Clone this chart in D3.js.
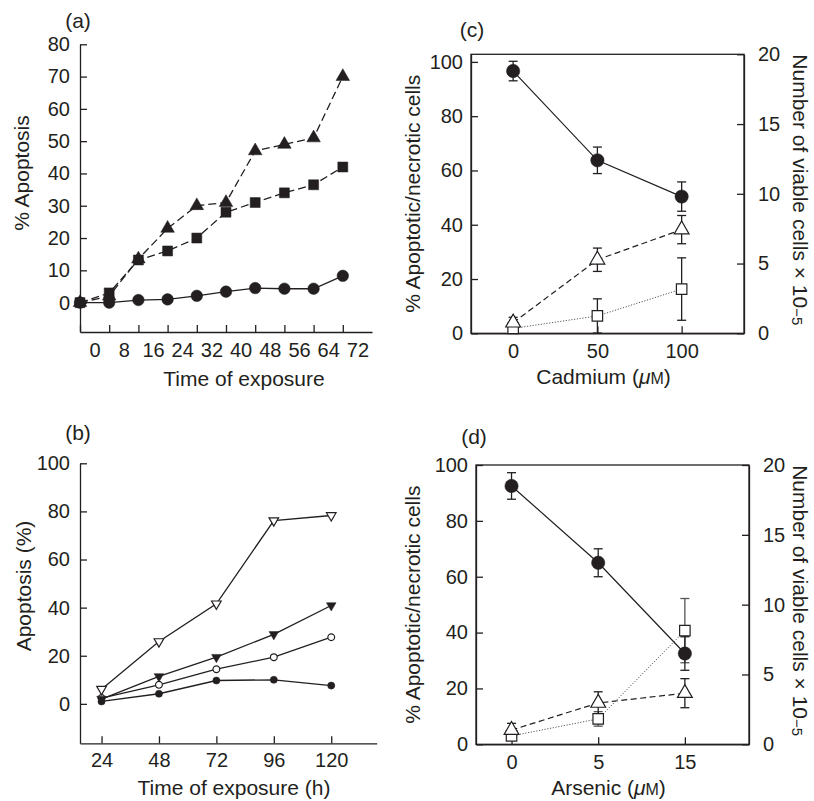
<!DOCTYPE html>
<html>
<head>
<meta charset="utf-8">
<script src="https://cdn.jsdelivr.net/npm/d3@7"></script>
<style>
  body { margin: 0; background: #fff; }
  text { font-family: "Liberation Sans", Arial, Helvetica, sans-serif; fill: #231f20; }
</style>
</head>
<body>
<div id="root"></div>
<script>
// ---- panel (a): % apoptosis vs time ----
var aTimes = ["0", "8", "16", "24", "32", "40", "48", "56", "64", "72"];
var aCircle = [0, 0, 0.8, 1, 2.1, 3.4, 4.5, 4.3, 4.3, 8.3];
var aSquare = [0, 3, 13.2, 16, 20, 28, 31, 34, 36.5, 42];
var aTriangle = [0, 2, 13.5, 23, 30, 31, 47, 49, 51, 70];
var aYTicks = [0, 10, 20, 30, 40, 50, 60, 70, 80];

// ---- panel (b): apoptosis (%) vs time (h) ----
var bTimes = [24, 48, 72, 96, 120];
var bFilledCircle = [1, 4.2, 9.7, 10, 7.6];
var bOpenCircle = [2.4, 7.9, 14.4, 19.4, 27.7];
var bFilledTri = [2, 11.4, 19.4, 28.9, 40.9];
var bOpenTri = [6.1, 25.9, 41.6, 76.2, 78.3];
var bYTicks = [0, 20, 40, 60, 80, 100];

// ---- panel (c): cadmium ----
var cDoses = ["0", "50", "100"];
var cViable = [18.8, 12.4, 9.8];          // right axis, x 10^-5
var cViableErr = [0.7, 0.95, 1.05];
var cApoptotic = [3.9, 27.1, 38.2];       // left axis, %
var cApoptoticErr = [2, 4.3, 5.2];
var cNecrotic = [1.8, 6.4, 16.3];
var cNecroticErr = [1, 6.3, 11.5];

// ---- panel (d): arsenic ----
var dDoses = ["0", "5", "15"];
var dViable = [18.5, 13.0, 6.5];
var dViableErr = [0.95, 1.0, 1.2];
var dApoptotic = [5.1, 14.8, 18.3];
var dApoptoticErr = [2.4, 4, 5.2];
var dNecrotic = [3, 9.1, 40.7];
var dNecroticErr = [1.5, 2.6, 11.5];

var leftTicks = [0, 20, 40, 60, 80, 100];
var rightTicks = [0, 5, 10, 15, 20];

var ink = "#231f20";
var tickFont = 20, titleFont = 21;

var svg = d3.select("#root").append("svg")
    .attr("width", 814)
    .attr("height", 801);

// style an axis group after d3 built it
function styleAxis(g, hideDomain) {
  g.attr("font-size", tickFont)
   .attr("font-family", null);
  g.selectAll("path").attr("stroke", ink).attr("stroke-width", 1.3);
  g.selectAll("line").attr("stroke", ink).attr("stroke-width", 1.3);
  g.selectAll("text").attr("fill", ink);
  if (hideDomain) g.select(".domain").remove();
}

function symbolPath(type, size) {
  return d3.symbol().type(type).size(size)();
}

// draw one series: line + markers
function drawSeries(g, xs, ys, x, y, o) {
  var pts = xs.map(function (d, i) { return [x(d), y(ys[i])]; });
  var line = d3.line();
  var p = g.append("path")
      .attr("d", line(pts))
      .attr("fill", "none")
      .attr("stroke", o.lineColor || ink)
      .attr("stroke-width", o.lineWidth || 1.3);
  if (o.dash) p.attr("stroke-dasharray", o.dash);

  g.selectAll(null)
    .data(pts)
    .enter().append("path")
      .attr("d", symbolPath(o.type, o.size))
      .attr("transform", function (d) {
        return "translate(" + d[0] + "," + d[1] + ")" + (o.flip ? " rotate(180)" : "");
      })
      .attr("fill", o.filled ? ink : "#fff")
      .attr("stroke", ink)
      .attr("stroke-width", o.filled ? 0.5 : 1.2);
}

function drawErrors(g, xs, ys, errs, x, y, color) {
  xs.forEach(function (d, i) {
    var cx = x(d), y1 = y(ys[i] - errs[i]), y2 = y(ys[i] + errs[i]);
    var e = g.append("g").attr("stroke", color || ink).attr("stroke-width", 1.3);
    e.append("line").attr("x1", cx).attr("x2", cx).attr("y1", y1).attr("y2", y2);
    e.append("line").attr("x1", cx - 4.5).attr("x2", cx + 4.5).attr("y1", y1).attr("y2", y1);
    e.append("line").attr("x1", cx - 4.5).attr("x2", cx + 4.5).attr("y1", y2).attr("y2", y2);
  });
}

function label(str, x, y, size, anchor, rot) {
  var t = svg.append("text")
      .attr("font-size", size)
      .attr("text-anchor", anchor || "middle")
      .text(str);
  if (rot) t.attr("transform", "translate(" + x + "," + y + ") rotate(" + rot + ")");
  else t.attr("x", x).attr("y", y);
  return t;
}

/*************** panel (a) ***************/
(function () {
  var idx = d3.range(aTimes.length);
  var x = d3.scaleLinear().domain([0, 10]).range([80, 372]);
  var y = d3.scaleLinear().domain([-9.1, 80]).range([332, 44.3]);
  var g = svg.append("g");

  g.append("g").attr("transform", "translate(80,0)")
    .call(d3.axisLeft(y).tickValues(aYTicks).tickSizeInner(-7).tickSizeOuter(0).tickPadding(10))
    .call(styleAxis);

  g.append("g").attr("transform", "translate(0,332)")
    .call(d3.axisBottom(x).tickValues(idx).tickSizeInner(-7).tickSizeOuter(0).tickFormat(""))
    .call(styleAxis);

  // labels sit between the tick marks, as in the original
  g.append("g").attr("transform", "translate(0,332)")
    .call(d3.axisBottom(x).tickValues(idx.map(function (i) { return i + 0.5; }))
      .tickSize(0).tickPadding(11)
      .tickFormat(function (d, i) { return aTimes[i]; }))
    .call(styleAxis, true);

  drawSeries(g, idx, aSquare, x, y, { type: d3.symbolSquare, size: 100, filled: true, dash: "8,4" });
  drawSeries(g, idx, aTriangle, x, y, { type: d3.symbolTriangle, size: 80, filled: true, dash: "8,4" });
  drawSeries(g, idx, aCircle, x, y, { type: d3.symbolCircle, size: 105, filled: true });

  label("(a)", 78, 28, titleFont);
  label("% Apoptosis", 29, 173, titleFont, "middle", -90);
  label("Time of exposure", 244, 386, titleFont);
})();

/*************** panel (b) ***************/
(function () {
  var x = d3.scaleLinear().domain([15, 139]).range([80, 376.7]);
  var y = d3.scaleLinear().domain([-16.4, 100]).range([743.3, 463.3]);
  var g = svg.append("g");

  g.append("g").attr("transform", "translate(80,0)")
    .call(d3.axisLeft(y).tickValues(bYTicks).tickSizeInner(-7).tickSizeOuter(0).tickPadding(10))
    .call(styleAxis);

  g.append("g").attr("transform", "translate(0,743.3)")
    .call(d3.axisBottom(x).tickValues(bTimes).tickSizeInner(-7).tickSizeOuter(0).tickPadding(10))
    .call(styleAxis);

  drawSeries(g, bTimes, bFilledCircle, x, y, { type: d3.symbolCircle, size: 40, filled: true });
  drawSeries(g, bTimes, bOpenCircle, x, y, { type: d3.symbolCircle, size: 36, filled: false });
  drawSeries(g, bTimes, bFilledTri, x, y, { type: d3.symbolTriangle, size: 40, filled: true, flip: true });
  drawSeries(g, bTimes, bOpenTri, x, y, { type: d3.symbolTriangle, size: 40, filled: false, flip: true });

  label("(b)", 78, 440, titleFont);
  label("Apoptosis (%)", 31, 586, titleFont, "middle", -90);
  label("Time of exposure (h)", 234, 795, titleFont);
})();

/*************** panels (c) and (d) ***************/
function dosePanel(o) {
  var x = d3.scaleLinear().domain(o.xDomain).range([o.left, o.right]);
  var yL = d3.scaleLinear().domain(o.leftDomain).range([o.bottom, o.top]);
  var yR = d3.scaleLinear().domain([0, 20]).range([o.bottom, o.top]);
  var idx = d3.range(o.doses.length);
  var g = svg.append("g");

  g.append("rect")
    .attr("x", o.left).attr("y", o.top)
    .attr("width", o.right - o.left).attr("height", o.bottom - o.top)
    .attr("fill", "none").attr("stroke", ink).attr("stroke-width", 1.3);

  g.append("g").attr("transform", "translate(" + o.left + ",0)")
    .call(d3.axisLeft(yL).tickValues(leftTicks).tickSizeInner(-7).tickSizeOuter(0).tickPadding(8))
    .call(styleAxis);

  g.append("g").attr("transform", "translate(" + o.right + ",0)")
    .call(d3.axisRight(yR).tickValues(rightTicks).tickSizeInner(-7).tickSizeOuter(0).tickPadding(14))
    .call(styleAxis);

  g.append("g").attr("transform", "translate(0," + o.bottom + ")")
    .call(d3.axisBottom(x).tickValues(idx).tickSizeInner(-7).tickSizeOuter(0).tickPadding(11)
      .tickFormat(function (d, i) { return o.doses[i]; }))
    .call(styleAxis);

  drawErrors(g, idx, o.necrotic, o.necroticErr, x, yL, o.necroticErrColor);
  drawErrors(g, idx, o.apoptotic, o.apoptoticErr, x, yL);
  drawErrors(g, idx, o.viable, o.viableErr, x, yR);

  drawSeries(g, idx, o.necrotic, x, yL, { type: d3.symbolSquare, size: 110, filled: false,
    dash: "1.2,1.6", lineColor: "#555", lineWidth: 1 });
  drawSeries(g, idx, o.apoptotic, x, yL, { type: d3.symbolTriangle, size: 95, filled: false,
    dash: "6,3.5", lineWidth: 1.2 });
  drawSeries(g, idx, o.viable, x, yR, { type: d3.symbolCircle, size: 140, filled: true, lineWidth: 1.2 });

  label(o.tag, o.tagX, o.tagY, titleFont);
  label("% Apoptotic/necrotic cells", 420, (o.top + o.bottom) / 2, titleFont, "middle", -90);

  var rt = label("Number of viable cells \u00d7 10", 793, (o.top + o.bottom) / 2 - 4, titleFont, "middle", 90);
  rt.append("tspan").attr("font-size", 15).attr("dy", 1).text("\u22125");

  var xt = svg.append("text")
      .attr("x", (o.left + o.right) / 2 - 4).attr("y", o.xTitleY)
      .attr("font-size", titleFont).attr("text-anchor", "middle");
  xt.append("tspan").text(o.metal + " (");
  xt.append("tspan").attr("font-style", "italic").text("\u03bc");
  xt.append("tspan").attr("font-size", 16).text("M");
  xt.append("tspan").text(")");
}

dosePanel({
  doses: cDoses, metal: "Cadmium",
  viable: cViable, viableErr: cViableErr,
  apoptotic: cApoptotic, apoptoticErr: cApoptoticErr,
  necrotic: cNecrotic, necroticErr: cNecroticErr,
  left: 471, right: 744, top: 54.3, bottom: 333.3,
  xDomain: [-0.5, 2.74], leftDomain: [0, 102.8],
  tag: "(c)", tagX: 472, tagY: 37, xTitleY: 384
});

dosePanel({
  doses: dDoses, metal: "Arsenic",
  viable: dViable, viableErr: dViableErr,
  apoptotic: dApoptotic, apoptoticErr: dApoptoticErr,
  necrotic: dNecrotic, necroticErr: dNecroticErr, necroticErrColor: "#555",
  left: 476, right: 749, top: 465, bottom: 744.3,
  xDomain: [-0.41, 2.74], leftDomain: [0, 100],
  tag: "(d)", tagX: 474, tagY: 444, xTitleY: 795
});
</script>
</body>
</html>
